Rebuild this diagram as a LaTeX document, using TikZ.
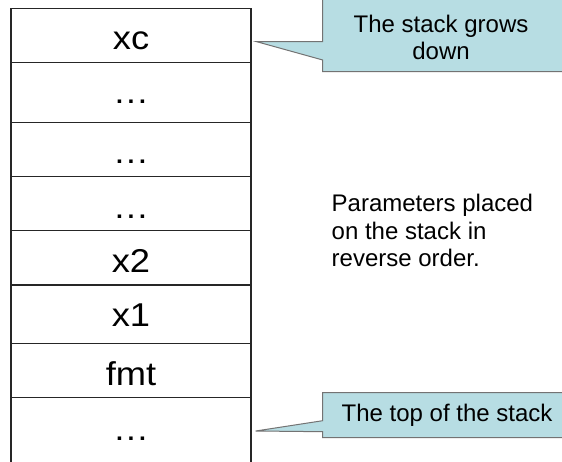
\documentclass[tikz,border=0pt]{standalone}
\usepackage{fontspec}
\usepackage{graphicx}
\setmainfont{Liberation Sans}
\definecolor{callfill}{RGB}{183,221,227}
\newcommand{\widetext}[1]{\scalebox{1.1}[1]{#1}}
\begin{document}
\begin{tikzpicture}[x=1pt,y=-1pt,
  stackline/.style={draw=black!85, line width=1.1pt},
  lbl/.style={font=\fontsize{33}{36}\selectfont, anchor=base, inner sep=0pt},
  calltext/.style={font=\fontsize{24}{27.5}\selectfont, inner sep=0pt},
  callout/.style={fill=callfill, draw=black!55, line width=1pt}]
\useasboundingbox (0,0) rectangle (562,462);
\clip (0,0) rectangle (562,462);
% stack rows
\foreach \y in {8.3,62.3,122.3,176.7,230.7,285,343.7,397.7}
  \draw[stackline] (11,\y) -- (251,\y);
\draw[stackline] (11,8.3) -- (11,470);
\draw[stackline] (251,8.3) -- (251,470);
\foreach \t/\b/\n in {xc/49.8/r1, …/103.8/r2, …/163.8/r3, …/218.2/r4, x2/272.2/r5, x1/326.5/r6, fmt/385.2/r7, …/440.5/r8}
  \node[lbl] (\n) at (131,\b) {\widetext{\t}};
% top callout
\coordinate (tipA) at (256.7,41.7);
\draw[callout] (322.7,-10) -- (322.7,41.7) -- (tipA) -- (322.7,60) -- (322.7,71.7) -- (575,71.7) -- (575,-10) -- cycle;
\node[calltext, align=center] (growsText) at (441,37.5) {The stack grows\\down};
% bottom callout
\coordinate (tipB) at (255.7,431);
\draw[callout] (322.7,392.7) -- (322.7,420.7) -- (tipB) -- (322.7,431.7) -- (322.7,437.7) -- (575,437.7) -- (575,392.7) -- cycle;
\node[calltext, anchor=base west] (topText) at (341.5,421) {The top of the stack};
% parameters note
\node[calltext, align=left, anchor=north west] (params) at (331.5,194) {Parameters placed\\on the stack in\\reverse order.};
\end{tikzpicture}
\end{document}
